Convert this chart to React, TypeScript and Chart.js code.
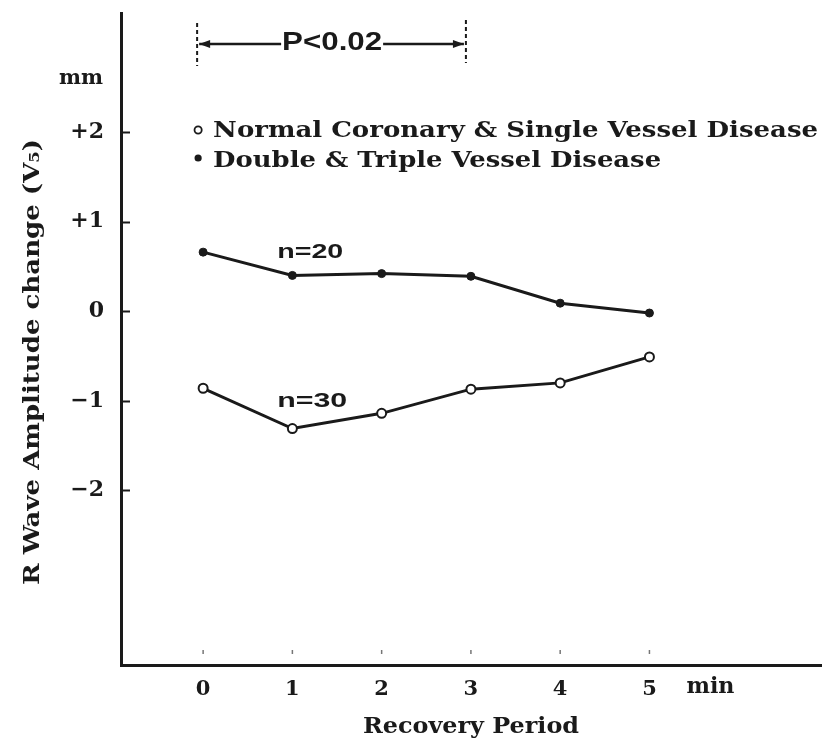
import React, { useEffect, useRef } from "react";
import { Chart, registerables } from "chart.js";

Chart.register(...registerables);

// Recovery period, minutes after exercise
const RECOVERY_MIN = [0, 1, 2, 3, 4, 5];
// Mean R wave amplitude change in V5 (mm)
const SINGLE_VESSEL = [-0.86, -1.31, -1.14, -0.87, -0.8, -0.51];
const MULTI_VESSEL = [0.66, 0.4, 0.42, 0.39, 0.09, -0.02];
const SERIES_LABELS = [
  "Normal Coronary & Single Vessel Disease",
  "Double & Triple Vessel Disease",
];
const SAMPLE_SIZES = ["n=30", "n=20"];
const Y_TICKS = [-2, -1, 0, 1, 2];
const X_TICKS = [0, 1, 2, 3, 4, 5];
const SIGNIFICANCE = "P<0.02";
const SIGNIF_RANGE = [0, 3];

const WIDTH = 822;
const HEIGHT = 747;
// the time axis runs off the right edge of the frame
const CANVAS_WIDTH = WIDTH + 8;
const INK = "#1a1a1a";
const SERIF = '"DejaVu Serif", serif';
const SANS = '"Liberation Sans", Arial, sans-serif';

function fmtY(v: number): string {
  if (v > 0) return "+" + v;
  if (v < 0) return "\u2212" + Math.abs(v);
  return "0";
}

// Draw text stretched (or spaced) to occupy a given width
function spacedText(
  ctx: CanvasRenderingContext2D,
  text: string,
  x: number,
  y: number,
  width: number,
  align: "left" | "center" = "left",
  stretch = false
) {
  ctx.save();
  (ctx as any).letterSpacing = "0px";
  const w = ctx.measureText(text).width;
  const left = align === "center" ? x - width / 2 : x;
  ctx.textAlign = "left";
  if (stretch || w > width) {
    ctx.translate(left, y);
    ctx.scale(width / w, 1);
    ctx.fillText(text, 0, 0);
  } else {
    const extra = (width - w) / Math.max(1, text.length - 1);
    (ctx as any).letterSpacing = extra + "px";
    ctx.fillText(text, left, y);
  }
  ctx.restore();
}

function arrowHead(ctx: CanvasRenderingContext2D, x: number, y: number, dir: number) {
  ctx.beginPath();
  ctx.moveTo(x, y);
  ctx.lineTo(x - dir * 11, y - 4);
  ctx.lineTo(x - dir * 11, y + 4);
  ctx.closePath();
  ctx.fill();
}

// Keep the plot area at fixed edges: no extra room for end tick labels
function clearPadding(s: any) {
  s.paddingTop = 0;
  s.paddingBottom = 0;
  s.paddingLeft = 0;
  s.paddingRight = 0;
}

const decorations = {
  id: "decorations",
  afterDraw(chart: any) {
    const { ctx, chartArea, scales } = chart;
    const xs = scales.x;
    const ys = scales.y;
    ctx.save();
    ctx.fillStyle = INK;
    ctx.strokeStyle = INK;

    // inward tick marks on the value axis
    ctx.lineWidth = 2;
    for (const v of Y_TICKS) {
      const py = Math.round(ys.getPixelForValue(v)) + 0.5;
      ctx.beginPath();
      ctx.moveTo(chartArea.left, py);
      ctx.lineTo(chartArea.left + 9, py);
      ctx.stroke();
    }
    // faint tick marks above the time axis
    ctx.lineWidth = 1.5;
    ctx.globalAlpha = 0.6;
    for (const v of X_TICKS) {
      const px = xs.getPixelForValue(v);
      ctx.beginPath();
      ctx.moveTo(px, chartArea.bottom - 15);
      ctx.lineTo(px, chartArea.bottom - 11);
      ctx.stroke();
    }
    ctx.globalAlpha = 1;

    // unit above the value axis
    ctx.font = `bold 20px ${SERIF}`;
    ctx.textBaseline = "alphabetic";
    spacedText(ctx, "mm", 59, 84, 44, "left", true);

    // axis titles
    ctx.save();
    ctx.translate(33, 362);
    ctx.rotate(-Math.PI / 2);
    ctx.font = `bold 22px ${SERIF}`;
    ctx.textBaseline = "middle";
    spacedText(ctx, "R Wave Amplitude change (V\u2085)", 0, 0, 446, "center", true);
    ctx.restore();

    ctx.font = `bold 22px ${SERIF}`;
    ctx.textBaseline = "middle";
    spacedText(ctx, "Recovery Period", 471, 727, 216, "center", true);
    spacedText(ctx, "min", xs.getPixelForValue(5) + 37, 687, 48, "left", true);

    // legend
    const markX = xs.getPixelForValue(0) - 5;
    ctx.font = `bold 22px ${SERIF}`;
    ctx.textBaseline = "alphabetic";
    ctx.lineWidth = 1.8;
    ctx.beginPath();
    ctx.arc(markX, 130, 3.6, 0, Math.PI * 2);
    ctx.fillStyle = "#fff";
    ctx.fill();
    ctx.stroke();
    ctx.fillStyle = INK;
    spacedText(ctx, SERIES_LABELS[0], markX + 15, 137, 605, "left", true);
    ctx.beginPath();
    ctx.arc(markX, 158, 3.6, 0, Math.PI * 2);
    ctx.fill();
    spacedText(ctx, SERIES_LABELS[1], markX + 15, 167, 448, "left", true);

    // sample sizes
    ctx.font = `bold 21px ${SANS}`;
    ctx.textBaseline = "middle";
    spacedText(ctx, SAMPLE_SIZES[1], xs.getPixelForValue(0.83), 252, 66, "left", true);
    spacedText(ctx, SAMPLE_SIZES[0], xs.getPixelForValue(0.83), 401, 70, "left", true);

    // significance bracket
    const x0 = xs.getPixelForValue(SIGNIF_RANGE[0]) - 6;
    const x1 = xs.getPixelForValue(SIGNIF_RANGE[1]) - 5;
    const by = 44;
    ctx.lineWidth = 2;
    ctx.setLineDash([4, 3]);
    ctx.beginPath();
    ctx.moveTo(x0, 23);
    ctx.lineTo(x0, 66);
    ctx.moveTo(x1, 20);
    ctx.lineTo(x1, 63);
    ctx.stroke();
    ctx.setLineDash([]);
    ctx.lineWidth = 2.5;
    ctx.beginPath();
    ctx.moveTo(x0 + 2, by);
    ctx.lineTo(x0 + 84, by);
    ctx.moveTo(x0 + 186, by);
    ctx.lineTo(x1 - 2, by);
    ctx.stroke();
    arrowHead(ctx, x0 + 2, by, -1);
    arrowHead(ctx, x1 - 2, by, 1);
    ctx.font = `bold 26px ${SANS}`;
    ctx.textBaseline = "middle";
    spacedText(ctx, SIGNIFICANCE, x0 + 85, 43, 100, "left", true);

    ctx.restore();
  },
};

export default function App() {
  const canvasRef = useRef<HTMLCanvasElement | null>(null);

  useEffect(() => {
    const canvas = canvasRef.current;
    if (!canvas) return;
    const chart = new Chart(canvas, {
      type: "line",
      data: {
        datasets: [
          {
            label: SERIES_LABELS[0],
            data: RECOVERY_MIN.map((x, i) => ({ x, y: SINGLE_VESSEL[i] })),
            borderColor: INK,
            borderWidth: 3,
            pointRadius: 4.5,
            pointBorderWidth: 2,
            pointBackgroundColor: "#fff",
            pointBorderColor: INK,
            tension: 0,
          },
          {
            label: SERIES_LABELS[1],
            data: RECOVERY_MIN.map((x, i) => ({ x, y: MULTI_VESSEL[i] })),
            borderColor: INK,
            borderWidth: 3,
            pointRadius: 4,
            pointBorderWidth: 1,
            pointBackgroundColor: INK,
            pointBorderColor: INK,
            tension: 0,
          },
        ],
      },
      options: {
        animation: false,
        responsive: false,
        layout: { padding: { top: 13, left: 0, right: 0, bottom: 0 } },
        plugins: {
          legend: { display: false },
          tooltip: { enabled: false },
        },
        scales: {
          x: {
            type: "linear",
            min: -0.92,
            max: 6.95,
            afterBuildTicks: (s: any) => {
              s.ticks = X_TICKS.map((v) => ({ value: v }));
            },
            afterFit: (s: any) => {
              s.height = 82;
              clearPadding(s);
            },
            grid: { display: true, drawOnChartArea: false, drawTicks: false },
            border: { display: true, color: INK, width: 3 },
            ticks: {
              color: INK,
              padding: 12,
              font: { family: SERIF, size: 21, weight: "bold" },
              callback: (v: any) => String(v),
            },
          },
          y: {
            type: "linear",
            min: -3.95,
            max: 3.33,
            afterBuildTicks: (s: any) => {
              s.ticks = Y_TICKS.map((v) => ({ value: v }));
            },
            afterFit: (s: any) => {
              s.width = 121;
              clearPadding(s);
            },
            grid: { display: true, drawOnChartArea: false, drawTicks: false },
            border: { display: true, color: INK, width: 3 },
            ticks: {
              color: INK,
              padding: 17,
              font: { family: SERIF, size: 22, weight: "bold" },
              callback: (v: any) => fmtY(Number(v)),
            },
          },
        },
      },
      plugins: [decorations],
    });
    return () => chart.destroy();
  }, []);

  return (
    <div
      style={{
        position: "fixed",
        left: 0,
        top: 0,
        width: WIDTH,
        height: HEIGHT,
        overflow: "hidden",
        background: "#fff",
      }}
    >
      <canvas
        ref={canvasRef}
        width={CANVAS_WIDTH}
        height={HEIGHT}
        style={{ display: "block", width: CANVAS_WIDTH, height: HEIGHT }}
      />
    </div>
  );
}
